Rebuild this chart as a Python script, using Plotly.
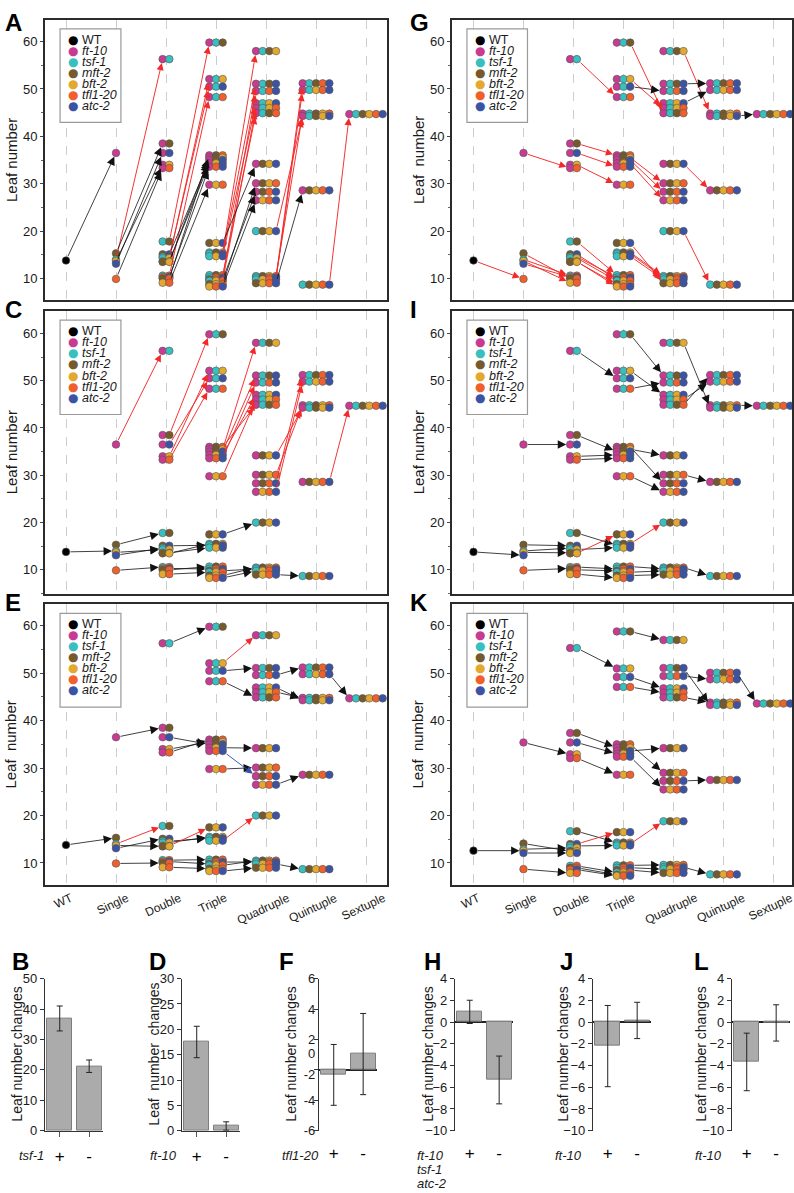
import plotly.graph_objects as go

W, H = 794, 1193
FONT = "Liberation Sans, Arial, sans-serif"
TXT = "#1a1a1a"

mutants = ["ft-10", "tsf-1", "mft-2", "bft-2", "tfl1-20", "atc-2"]
codes = ["F", "T", "M", "B", "L", "A"]
mutant_colors = ["#c93a92", "#38bfbf", "#765a2c", "#e3a92f", "#f0602c", "#3b53a5"]
categories = ["WT", "Single", "Double", "Triple", "Quadruple", "Quintuple", "Sextuple"]

# genotypes, one letter per mutant (codes above)
single_geno = ["F", "T", "M", "B", "L", "A"]
double_geno = ["FT", "FM", "FB", "FL", "FA", "TM", "TB", "TL", "TA", "MB", "ML", "MA", "BL", "BA", "LA"]
triple_geno = ["FTM", "FTB", "FTL", "FTA", "FMB", "FML", "FMA", "FBL", "FBA", "FLA",
               "TMB", "TML", "TMA", "TBL", "TBA", "TLA", "MBL", "MBA", "MLA", "BLA"]
quad_geno = ["FTMB", "FTML", "FTMA", "FTBL", "FTBA", "FTLA", "FMBL", "FMBA", "FMLA", "FBLA",
             "TMBL", "TMBA", "TMLA", "TBLA", "MBLA"]
quint_geno = ["FTMBL", "FTMBA", "FTMLA", "FTBLA", "FMBLA", "TMBLA"]
sext_geno = ["FTMBLA"]

# leaf numbers, panels A C E G I
wt_leaf = [13.8]
single_leaf = [36.5, 14.0, 15.3, 13.7, 9.9, 13.1]
double_leaf = [56.3, 38.5, 34.0, 33.3, 36.5, 17.8, 14.3, 10.6, 14.6, 13.5, 10.0, 15.1, 9.1, 13.6, 10.3]
triple_leaf = [59.8, 52.1, 48.3, 50.5, 35.5, 36.0, 35.0, 29.8, 34.3, 33.6,
               15.5, 10.7, 15.2, 9.5, 14.7, 10.2, 8.8, 17.5, 9.8, 8.3]
quad_leaf = [58.0, 44.9, 51.1, 46.0, 47.0, 49.6, 30.1, 34.2, 28.3, 26.5, 10.5, 20.0, 10.2, 9.8, 9.0]
quint_leaf = [44.8, 44.3, 51.2, 49.8, 28.6, 8.7]
sext_leaf = [44.7]

# leaf numbers, panel K
wt_leaf_k = [12.6]
single_leaf_k = [35.4, 12.9, 14.1, 12.6, 8.7, 12.1]
double_leaf_k = [55.3, 37.4, 32.9, 32.1, 35.4, 16.7, 13.2, 9.4, 13.6, 12.5, 9.0, 14.0, 7.9, 12.1, 8.6]
triple_leaf_k = [58.8, 51.0, 47.1, 49.2, 34.3, 35.0, 33.6, 28.6, 33.0, 32.4,
                 14.3, 9.5, 14.0, 8.0, 13.7, 9.0, 7.5, 16.5, 8.5, 7.3]
quad_leaf_k = [57.0, 44.9, 51.1, 45.9, 46.8, 49.4, 29.0, 34.2, 27.3, 25.5, 9.6, 18.8, 9.1, 8.7, 7.9]
quint_leaf_k = [43.8, 43.3, 50.1, 48.7, 27.5, 7.6]
sext_leaf_k = [43.6]

# panels: letter, mutant added along the arrows, y title
panel_letters = ["A", "C", "E", "G", "I", "K"]
panel_added = ["F", "T", "M", "L", "A", "B"]
panel_ytitle = ["Leaf number", "Leaf number", "Leaf\u00a0 number", "Leaf\u00a0 number", "Leaf number", "Leaf\u00a0 number"]
panel_default = ["black", "black", "black", "red", "black", "black"]

# arrow colours that differ from the panel default (keyed by starting genotype)
red_A = ["T", "TM", "TB", "TL", "TA", "TMB", "TML", "TMA", "TBL", "TBA", "TLA", "TMBL", "TMBA", "TMLA", "TBLA", "TMBLA"]
red_C = ["F", "FM", "FB", "FL", "FA", "FMB", "FML", "FMA", "FBL", "FBA", "FLA", "FMBL", "FMBA", "FMLA", "FBLA", "FMBLA"]
red_E = ["T", "BA", "FTB", "TBA"]
blue_E = ["FLA"]
black_G = ["FTA", "FTMA", "FTBA", "FTMBA"]
red_I = ["MB", "TMB"]
red_K = ["MA", "TMA"]

# bar charts
bar_letters = ["B", "D", "F", "H", "J", "L"]
bar_values = [[36.9, 21.2], [17.5, 0.92], [-0.33, 1.04], [0.94, -5.33], [-2.21, 0.15], [-3.67, -0.08]]
bar_errors = [[4.1, 2.05], [3.1, 0.83], [2.0, 2.67], [1.07, 2.2], [3.74, 1.67], [2.65, 1.67]]
bar_ranges = [[0, 50], [0, 30], [-4, 6], [-10, 4], [-10, 4], [-10, 4]]
bar_dticks = [10, 5, 2, 2, 2, 2]
bar_ytitle = ["Leaf number changes", "Leaf\u00a0 number\u00a0 changes", "Leaf number changes",
              "Leaf number changes", "Leaf number changes", "Leaf number changes"]
bar_genes = [["tsf-1"], ["ft-10"], ["tfl1-20"], ["ft-10", "tsf-1", "atc-2"], ["ft-10"], ["ft-10"]]
sign_labels = ["+", "-"]
# panel F axis as printed
f_tick_pos = [6, 4, 2, 1.07, -0.33, -2, -4]
f_tick_text = ["6", "4", "2", "0", "-2", "-4", "-6"]

geno_all = [""] + single_geno + double_geno + triple_geno + quad_geno + quint_geno + sext_geno
leaf_main = dict(zip(geno_all, wt_leaf + single_leaf + double_leaf + triple_leaf + quad_leaf + quint_leaf + sext_leaf))
leaf_k = dict(zip(geno_all, wt_leaf_k + single_leaf_k + double_leaf_k + triple_leaf_k + quad_leaf_k + quint_leaf_k + sext_leaf_k))

arrow_colors = []
for i in range(6):
    d = {}
    if i == 0:
        d.update({g: "red" for g in red_A})
    if i == 1:
        d.update({g: "red" for g in red_C})
    if i == 2:
        d.update({g: "red" for g in red_E})
        d.update({g: "blue" for g in blue_E})
    if i == 3:
        d.update({g: "black" for g in black_G})
    if i == 4:
        d.update({g: "red" for g in red_I})
    if i == 5:
        d.update({g: "red" for g in red_K})
    arrow_colors.append(d)

COL = {"black": "#111111", "red": "#f22a2a", "blue": "#3550b2"}
DX = 0.1333


def sid(k):
    return "" if k == 1 else str(k)


def xd(a, b):
    return [a / W, b / W]


def yd(top, bottom):
    return [1 - bottom / H, 1 - top / H]


def row_dots(g):
    n = len(g)
    if n == 0:
        return [0.0], ["#000000"]
    xs = [n + (j - (n - 1) / 2) * DX for j in range(n)]
    return xs, [mutant_colors[codes.index(c)] for c in g]


panel_left = [45, 45, 45, 452, 452, 452]
panel_right = [387, 387, 387, 792, 792, 792]
panel_top = [13, 308, 605, 13, 308, 605]
panel_bottom = [297, 594, 889, 297, 594, 889]
panel_xr = [[-0.42, 6.42]] * 3 + [[-0.43, 6.37]] * 3
panel_yr = [[5.4, 64.6], [5.0, 64.7], [5.4, 64.5]] * 2

fig = go.Figure()
ann = []
shapes = []
lay = {}

for i in range(6):
    k = i + 1
    s = sid(k)
    leaf = leaf_k if i == 5 else leaf_main
    xs, ys, cs = [], [], []
    for g in sorted(geno_all, key=lambda g: -leaf[g]):
        gx, gc = row_dots(g)
        xs += gx
        ys += [leaf[g]] * len(gx)
        cs += gc
    fig.add_trace(go.Scatter(x=xs, y=ys, mode="markers", xaxis="x" + s, yaxis="y" + s,
                             marker=dict(size=7.6, color=cs, line=dict(color="#555555", width=0.6)),
                             hoverinfo="skip"))

    added = panel_added[i]
    for g in geno_all:
        if added in g:
            continue
        t = "".join(c for c in codes if c in g or c == added)
        col = arrow_colors[i].get(g, panel_default[i])
        n, m = len(g), len(t)
        tail_x = n + (n - 1) / 2 * DX if n else 0.0
        head_x = m - (m - 1) / 2 * DX
        black = col == "black"
        ann.append(dict(x=head_x, y=leaf[t], ax=tail_x, ay=leaf[g],
                        xref="x" + s, yref="y" + s, axref="x" + s, ayref="y" + s,
                        text="", showarrow=True, arrowhead=2,
                        arrowsize=2.1 if black else 1.5, arrowwidth=0.8 if black else 0.95,
                        arrowcolor=COL[col], standoff=4, startstandoff=3))

    lay["xaxis" + s] = dict(domain=xd(panel_left[i], panel_right[i]), range=panel_xr[i], anchor="y" + s,
                            tickvals=list(range(len(categories))), showticklabels=False, ticks="",
                            showgrid=True, gridcolor="#cdcdcd", griddash="dash", gridwidth=1,
                            zeroline=False, showline=True, mirror=True, linecolor="#2b2b2b", linewidth=2)
    lay["yaxis" + s] = dict(domain=yd(panel_top[i], panel_bottom[i]), range=panel_yr[i], anchor="x" + s,
                            tickvals=[10, 20, 30, 40, 50, 60], ticks="outside", ticklen=3, tickcolor="#444",
                            minor=dict(dtick=5, ticks="outside", ticklen=2, tickcolor="#666"),
                            tickfont=dict(size=13, color=TXT),
                            showgrid=False, zeroline=False, showline=True, mirror=True,
                            linecolor="#2b2b2b", linewidth=2)

    # legend box with coloured dots and names
    dom_x = "x" + s + " domain"
    dom_y = "y" + s + " domain"
    shapes.append(dict(type="rect", xref=dom_x, yref=dom_y, x0=0.044, x1=0.222,
                       y0=0.634, y1=0.968, line=dict(color="#9a9a9a", width=1.2), fillcolor="white",
                       layer="above"))
    names = ["WT"] + [f"<i>{m}</i>" for m in mutants]
    lcols = ["#000000"] + mutant_colors
    for j in range(7):
        ly = 0.9296 - j * 0.0394
        ann.append(dict(x=0.082, y=ly, xref=dom_x, yref=dom_y, text="\u25cf", showarrow=False,
                        xanchor="center", yanchor="middle", font=dict(size=12, color=lcols[j],
                                                                       family="DejaVu Sans")))
        ann.append(dict(x=0.102, y=ly, xref=dom_x, yref=dom_y, text=names[j], showarrow=False,
                        xanchor="left", yanchor="middle", font=dict(size=12.5, color=TXT)))

    # panel letter and y title
    lx = 3 if i < 3 else 408
    if panel_top[i] < 20:
        ann.append(dict(x=lx / W, y=1, xref="paper", yref="paper", text=f"<b>{panel_letters[i]}</b>",
                        showarrow=False, xanchor="left", yanchor="top", font=dict(size=24, color="#000")))
    else:
        ann.append(dict(x=lx / W, y=1 - (panel_top[i] - 1.5) / H, xref="paper", yref="paper",
                        text=f"<b>{panel_letters[i]}</b>",
                        showarrow=False, xanchor="left", yanchor="middle", font=dict(size=24, color="#000")))
    tx = 11 if i < 3 else 418
    ann.append(dict(x=tx / W, y=1 - (panel_top[i] + panel_bottom[i]) / 2 / H, xref="paper", yref="paper",
                    text=panel_ytitle[i], textangle=-90, showarrow=False, xanchor="center", yanchor="middle",
                    font=dict(size=15, color=TXT)))

    if i in (2, 5):
        for j, c in enumerate(categories):
            ann.append(dict(x=j, y=0, xref="x" + s, yref=dom_y, text=c, textangle=-25,
                            showarrow=False, xanchor="center", yanchor="top", xshift=-3, yshift=-3,
                            font=dict(size=12, color=TXT)))

# bar charts
bar_axis_px = [45, 182, 319, 455, 593, 732]
bar_letter_px = [10, 147, 277, 422, 558, 692]
bar_title_px = [17, 154, 291, 428, 563, 701]
bar_gene_px = [17, 148, 280, 415, 553, 693]
for i in range(6):
    s = sid(13 + i)
    fig.add_trace(go.Bar(x=[0, 1], y=bar_values[i], width=0.84, xaxis="x" + s, yaxis="y" + s,
                         marker=dict(color="#ababab", line=dict(color="#7d7d7d", width=1)),
                         error_y=dict(type="data", array=bar_errors[i], color="#222", thickness=1, width=3),
                         hoverinfo="skip"))
    bd = i < 2
    lay["xaxis" + s] = dict(domain=xd(bar_axis_px[i], bar_axis_px[i] + 58), range=[-0.5, 1.47], anchor="y" + s,
                            tickvals=[0, 1], ticktext=sign_labels, tickfont=dict(size=17, color="#000"),
                            ticks="outside" if bd else "", ticklen=5, tickcolor="#555",
                            ticklabelstandoff=5 if bd else 10,
                            showline=bd, linecolor="#333", linewidth=1.2, showgrid=False, zeroline=False)
    ya = dict(domain=yd(984, 1138), range=bar_ranges[i], anchor="x" + s, dtick=bar_dticks[i],
              ticks="outside", ticklen=4, tickcolor="#333", tickfont=dict(size=13, color=TXT),
              showline=True, linecolor="#333", linewidth=1.2, showgrid=False,
              zeroline=not bd, zerolinecolor="#222", zerolinewidth=1.6)
    if i == 2:
        ya.update(tickmode="array", tickvals=f_tick_pos, ticktext=f_tick_text, ticks="",
                  minor=dict(tickmode="array", tickvals=[6, 4, 2, 0, -2, -4], ticks="outside",
                             ticklen=4, tickcolor="#333"))
    lay["yaxis" + s] = ya
    ann.append(dict(x=bar_letter_px[i] / W, y=1 - 967 / H, xref="paper", yref="paper",
                    text=f"<b>{bar_letters[i]}</b>", showarrow=False, xanchor="left", yanchor="middle",
                    font=dict(size=24, color="#000")))
    ann.append(dict(x=bar_title_px[i] / W, y=1 - 1061 / H, xref="paper", yref="paper", text=bar_ytitle[i],
                    textangle=-90, showarrow=False, xanchor="center", yanchor="middle",
                    font=dict(size=14, color=TXT)))
    for j, gname in enumerate(bar_genes[i]):
        ann.append(dict(x=bar_gene_px[i] / W, y=1 - (1163 + 14 * j) / H, xref="paper", yref="paper",
                        text=f"<i>{gname}</i>", showarrow=False, xanchor="left", yanchor="middle",
                        font=dict(size=13, color=TXT)))

fig.update_layout(width=W, height=H, margin=dict(l=0, r=0, t=0, b=0), showlegend=False,
                  plot_bgcolor="white", paper_bgcolor="white", font=dict(family=FONT, color=TXT),
                  annotations=ann, shapes=shapes, bargap=0, **lay)
fig.write_html("out.html", config={"displayModeBar": False},
               post_script="document.body.style.margin='0px';document.body.style.overflow='hidden';")
